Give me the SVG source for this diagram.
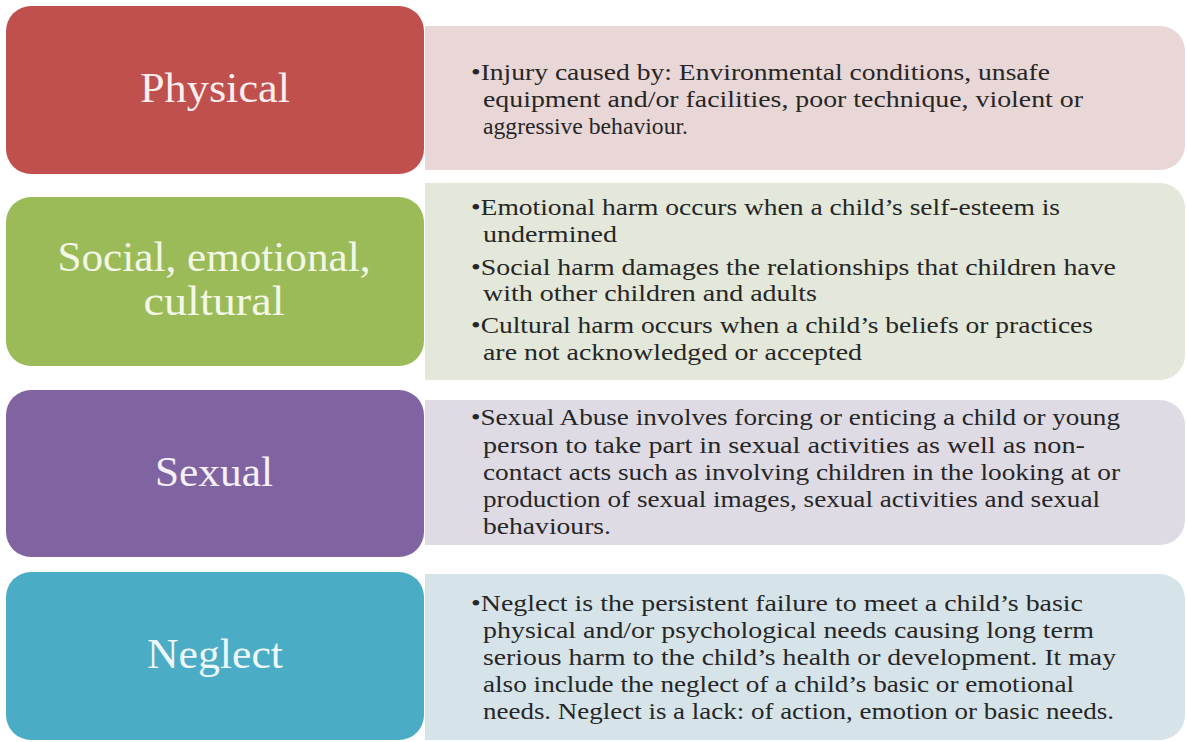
<svg xmlns="http://www.w3.org/2000/svg" width="1187" height="742" viewBox="0 0 1187 742">
  <style>
    .title { font-family: "Liberation Serif", "DejaVu Serif", serif; font-size: 42px; text-anchor: middle; }
    .body { font-family: "Liberation Serif", "DejaVu Serif", serif; font-size: 23.5px; fill: #262626; }
  </style>
  <rect width="1187" height="742" fill="#ffffff"/>

  <!-- Physical -->
  <g id="physical">
    <path d="M425,26 H1160 A25,25 0 0 1 1185,51 V145 A25,25 0 0 1 1160,170 H425 Z" fill="#e9d6d6"/>
    <rect x="6" y="6" width="418" height="168" rx="25" fill="#c0504d"/>
    <text class="title" x="215" y="102" fill="#fbeeee" textLength="150" lengthAdjust="spacingAndGlyphs">Physical</text>
    <text class="body" x="471" y="80" textLength="579" lengthAdjust="spacingAndGlyphs">•Injury caused by: Environmental conditions, unsafe</text>
    <text class="body" x="483" y="107" textLength="600" lengthAdjust="spacingAndGlyphs">equipment and/or facilities, poor technique, violent or</text>
    <text class="body" x="483" y="134" textLength="205" lengthAdjust="spacingAndGlyphs">aggressive behaviour.</text>
  </g>

  <!-- Social, emotional, cultural -->
  <g id="social">
    <path d="M425,183 H1160 A25,25 0 0 1 1185,208 V355 A25,25 0 0 1 1160,380 H425 Z" fill="#e3e8da"/>
    <rect x="6" y="197" width="418" height="169" rx="25" fill="#9bbb59"/>
    <text class="title" x="214" y="271" fill="#f2f7e6" textLength="313" lengthAdjust="spacingAndGlyphs">Social, emotional,</text>
    <text class="title" x="214" y="315" fill="#f2f7e6" textLength="141" lengthAdjust="spacingAndGlyphs">cultural</text>
    <text class="body" x="471" y="215" textLength="589" lengthAdjust="spacingAndGlyphs">•Emotional harm occurs when a child’s self-esteem is</text>
    <text class="body" x="483" y="242" textLength="134" lengthAdjust="spacingAndGlyphs">undermined</text>
    <text class="body" x="471" y="275" textLength="645" lengthAdjust="spacingAndGlyphs">•Social harm damages the relationships that children have</text>
    <text class="body" x="483" y="301" textLength="334" lengthAdjust="spacingAndGlyphs">with other children and adults</text>
    <text class="body" x="471" y="333" textLength="622" lengthAdjust="spacingAndGlyphs">•Cultural harm occurs when a child’s beliefs or practices</text>
    <text class="body" x="483" y="360" textLength="379" lengthAdjust="spacingAndGlyphs">are not acknowledged or accepted</text>
  </g>

  <!-- Sexual -->
  <g id="sexual">
    <path d="M425,400 H1160 A25,25 0 0 1 1185,425 V520 A25,25 0 0 1 1160,545 H425 Z" fill="#dfdbe5"/>
    <rect x="6" y="390" width="418" height="167" rx="25" fill="#8064a2"/>
    <text class="title" x="214" y="486" fill="#f5f0fa" textLength="118" lengthAdjust="spacingAndGlyphs">Sexual</text>
    <text class="body" x="471" y="425" textLength="649" lengthAdjust="spacingAndGlyphs">•Sexual Abuse involves forcing or enticing a child or young</text>
    <text class="body" x="483" y="453" textLength="602" lengthAdjust="spacingAndGlyphs">person to take part in sexual activities as well as non-</text>
    <text class="body" x="483" y="480" textLength="637" lengthAdjust="spacingAndGlyphs">contact acts such as involving children in the looking at or</text>
    <text class="body" x="483" y="507" textLength="617" lengthAdjust="spacingAndGlyphs">production of sexual images, sexual activities and sexual</text>
    <text class="body" x="483" y="534" textLength="128" lengthAdjust="spacingAndGlyphs">behaviours.</text>
  </g>

  <!-- Neglect -->
  <g id="neglect">
    <path d="M425,574 H1160 A25,25 0 0 1 1185,599 V715 A25,25 0 0 1 1160,740 H425 Z" fill="#d6e4ea"/>
    <rect x="6" y="572" width="418" height="168" rx="25" fill="#4bacc6"/>
    <text class="title" x="215" y="668" fill="#eef8fb" textLength="136" lengthAdjust="spacingAndGlyphs">Neglect</text>
    <text class="body" x="471" y="611" textLength="612" lengthAdjust="spacingAndGlyphs">•Neglect is the persistent  failure to meet a child’s basic</text>
    <text class="body" x="483" y="638" textLength="611" lengthAdjust="spacingAndGlyphs">physical and/or psychological needs causing long term</text>
    <text class="body" x="483" y="665" textLength="633" lengthAdjust="spacingAndGlyphs">serious harm to the child’s health or development. It may</text>
    <text class="body" x="483" y="692" textLength="591" lengthAdjust="spacingAndGlyphs">also include the neglect of a child’s basic or emotional</text>
    <text class="body" x="483" y="719" textLength="631" lengthAdjust="spacingAndGlyphs">needs. Neglect is a lack: of action, emotion or basic needs.</text>
  </g>

  <g id="connectors"/>
</svg>
